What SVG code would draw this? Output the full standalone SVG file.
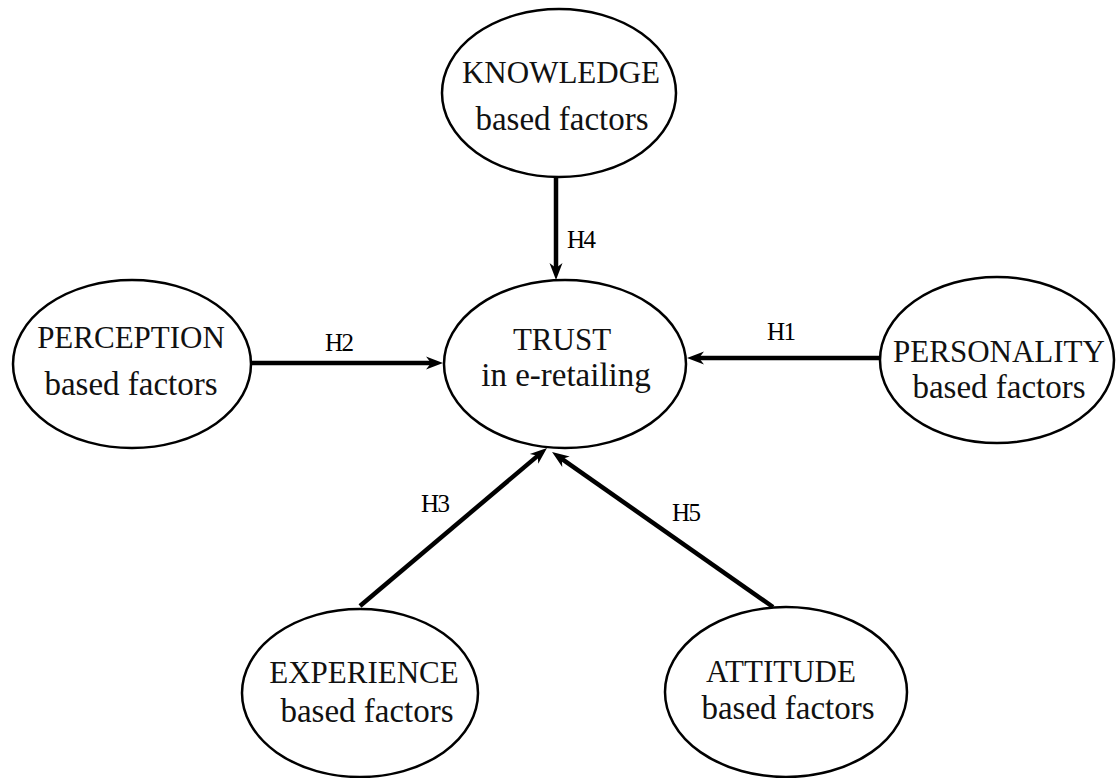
<svg xmlns="http://www.w3.org/2000/svg" width="1118" height="778" viewBox="0 0 1118 778">
<style>
.node ellipse{fill:#fff;stroke:#000;stroke-width:2.5}
.cap{font-family:"Liberation Serif","Times New Roman",serif;font-size:31px;fill:#111;text-anchor:middle}
.low{font-family:"Liberation Serif","Times New Roman",serif;font-size:33px;fill:#111;text-anchor:middle}
.lbl{font-family:"Liberation Serif","Times New Roman",serif;font-size:25px;fill:#000;letter-spacing:-1.5px}
.edge{stroke:#000;stroke-width:4.5;fill:none;marker-end:url(#ah)}
</style>
<defs>
<marker id="ah" viewBox="-10 -8 20 16" markerWidth="20" markerHeight="16" refX="0" refY="0" markerUnits="userSpaceOnUse" orient="auto" overflow="visible">
<path d="M8,0 L-9,-6.5 L-4,0 L-9,6.5 Z" fill="#000"/>
</marker>
</defs>
<rect width="1118" height="778" fill="#fff"/>
<g id="knowledge" class="node"><ellipse cx="559" cy="93" rx="117" ry="84"/><text class="cap" x="561" y="83">KNOWLEDGE</text><text class="low" x="562" y="130">based factors</text></g>
<g id="trust" class="node"><ellipse cx="565" cy="364" rx="121" ry="84"/><text class="cap" x="562" y="350">TRUST</text><text class="low" x="566" y="386">in e-retailing</text></g>
<g id="perception" class="node"><ellipse cx="132" cy="364" rx="119" ry="84"/><text class="cap" x="131" y="348">PERCEPTION</text><text class="low" x="131" y="395">based factors</text></g>
<g id="personality" class="node"><ellipse cx="997" cy="360" rx="117" ry="83"/><text class="cap" x="999" y="362">PERSONALITY</text><text class="low" x="999" y="398">based factors</text></g>
<g id="experience" class="node"><ellipse cx="360" cy="693" rx="118" ry="84"/><text class="cap" x="364" y="683">EXPERIENCE</text><text class="low" x="367" y="722">based factors</text></g>
<g id="attitude" class="node"><ellipse cx="786" cy="692" rx="121" ry="85"/><text class="cap" x="781" y="682">ATTITUDE</text><text class="low" x="788" y="719">based factors</text></g>
<g id="connectors">
<line class="edge" x1="556" y1="177" x2="556" y2="272"/>
<line class="edge" x1="252" y1="363" x2="435" y2="363"/>
<line class="edge" x1="880" y1="358" x2="695" y2="358"/>
<line class="edge" x1="360" y1="606" x2="540.9" y2="453.1"/>
<line class="edge" x1="773" y1="607" x2="558.6" y2="456.6"/>
<text class="lbl" x="567" y="248">H4</text>
<text class="lbl" x="325" y="351">H2</text>
<text class="lbl" x="767" y="340">H1</text>
<text class="lbl" x="421" y="512">H3</text>
<text class="lbl" x="672" y="521">H5</text>
</g>
</svg>
